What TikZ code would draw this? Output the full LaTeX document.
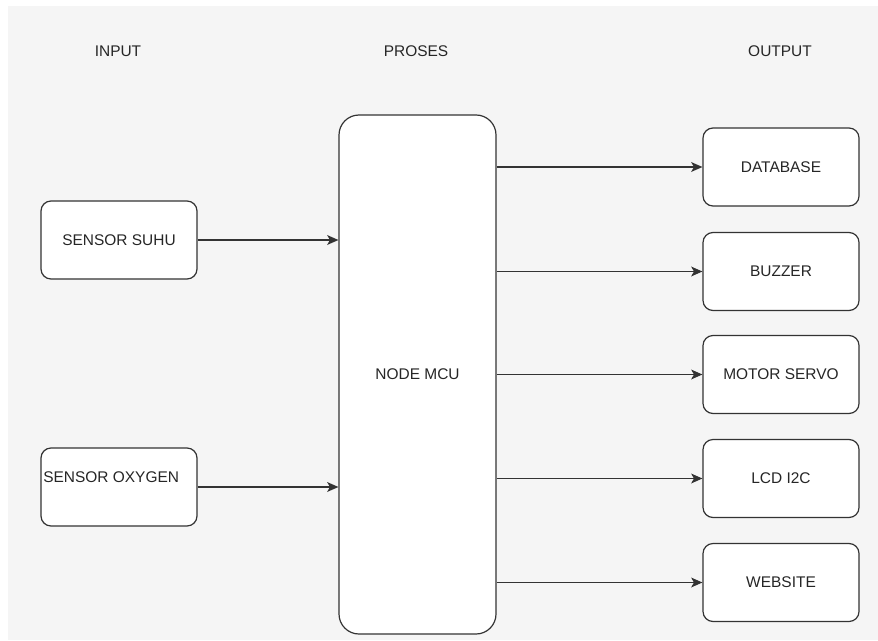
\documentclass[tikz,border=0pt]{standalone}
\usepackage{fontspec}
\setmainfont{Liberation Sans}
\usetikzlibrary{positioning,calc,arrows,arrows.meta}
\definecolor{bggray}{HTML}{F5F5F5}
\definecolor{edge}{HTML}{333333}
\tikzset{font=\fontsize{11}{13}\selectfont}
\tikzset{
	blok/.style={draw=edge, line width=0.85pt, fill=white, rounded corners=0.25cm,
		minimum width=3.9cm, minimum height=1.95cm},
	mcublok/.style={draw=edge, line width=0.85pt, fill=white, rounded corners=0.5cm,
		minimum width=3.925cm, minimum height=12.975cm},
	panah/.style={->, >={Stealth[length=8pt,width=7pt,inset=2pt]}, draw=edge, line width=0.85pt}
}

\begin{document}
\begin{tikzpicture}
	\fill[white] (0, 0) rectangle (21.95, -16);
	\fill[bggray] (0.2, -0.15) rectangle (21.95, -16);
	\useasboundingbox (0, 0) rectangle (21.95, -16);

	\tikzstyle{every node}=[align=center, text=black!85]
	% judul kolom
	\node (input) at (2.95, -1.275) {INPUT};
	\node (proses) at (10.4, -1.275) {PROSES};
	\node (output) at (19.5, -1.275) {OUTPUT};

	% input
	\node [blok] (suhu) at (2.975, -6.0) {SENSOR SUHU};
	\node [blok] (oksigen) at (2.975, -12.175) {};
	\node [anchor=west, inner sep=0pt] (oksigentxt) at (1.075, -11.925) {SENSOR OXYGEN};

	% proses
	\node [mcublok] (mcu) at (10.4375, -9.3625) {NODE MCU};

	% output
	\node [blok] (db) at (19.525, -4.175) {DATABASE};
	\node [blok] (buzzer) at (19.525, -6.7875) {BUZZER};
	\node [blok] (servo) at (19.525, -9.3625) {MOTOR SERVO};
	\node [blok] (lcd) at (19.525, -11.9625) {LCD I2C};
	\node [blok] (web) at (19.525, -14.5625) {WEBSITE};

	\draw [panah] (suhu.east) to (suhu.east -| mcu.west);
	\draw [panah] (oksigen.east) to (oksigen.east -| mcu.west);

	\draw [panah] (mcu.east |- db.west) to (db.west);
	\draw [panah] (mcu.east |- buzzer.west) to (buzzer.west);
	\draw [panah] (mcu.east |- servo.west) to (servo.west);
	\draw [panah] (mcu.east |- lcd.west) to (lcd.west);
	\draw [panah] (mcu.east |- web.west) to (web.west);
\end{tikzpicture}
\end{document}
